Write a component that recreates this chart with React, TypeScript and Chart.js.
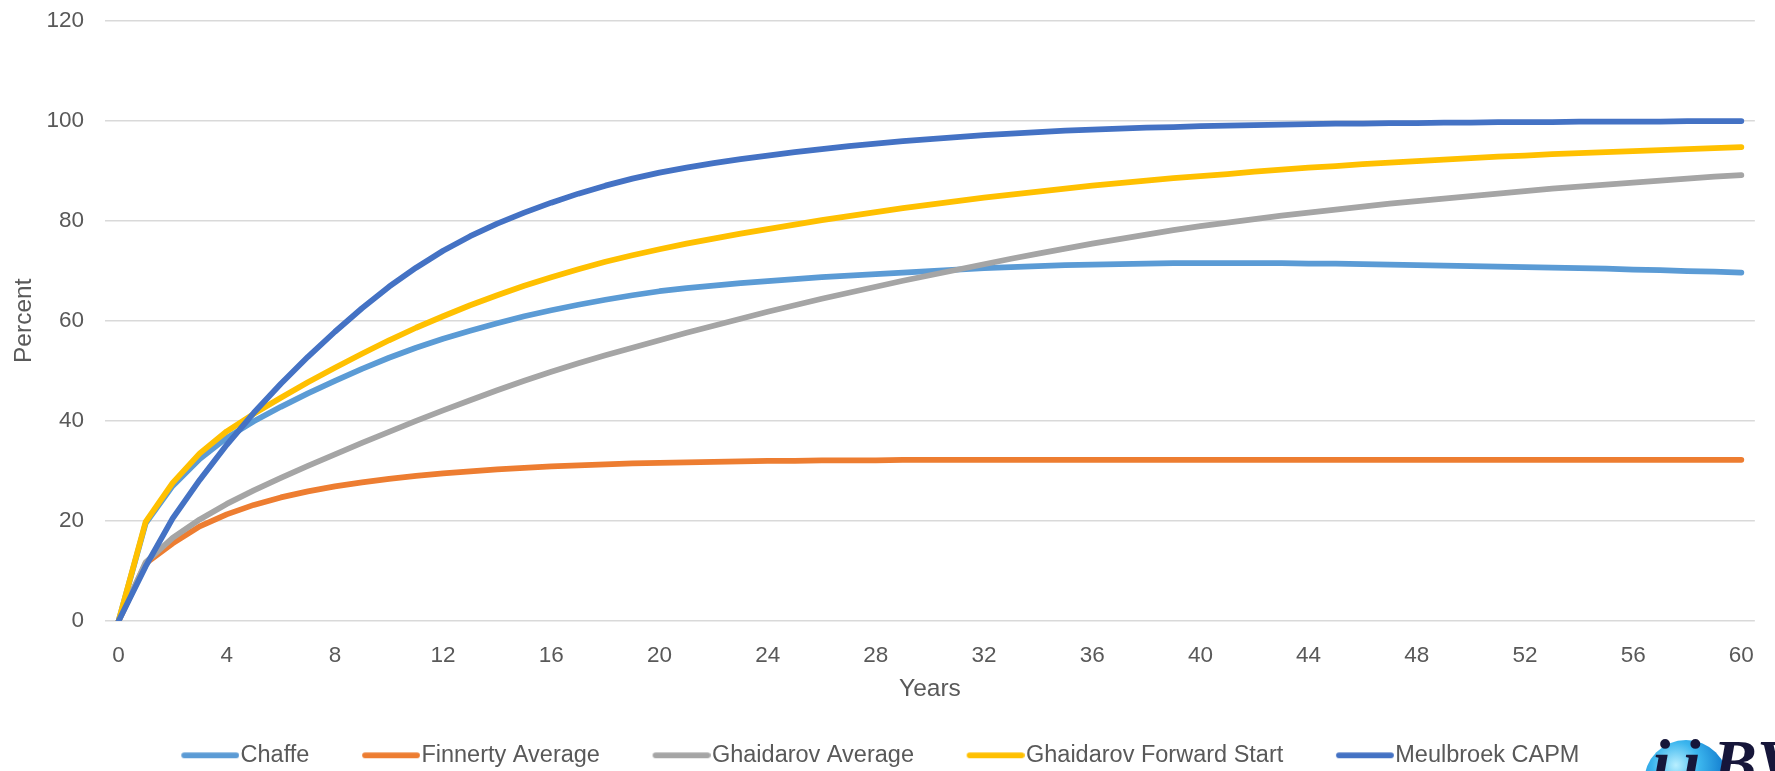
import React, { useEffect, useRef } from "react";
import { Chart, registerables } from "chart.js";

Chart.register(...registerables);

const years = [
  0, 1, 2, 3, 4, 5, 6, 7, 8, 9, 10, 11, 12, 13, 14, 15, 16, 17, 18, 19, 20,
  21, 22, 23, 24, 25, 26, 27, 28, 29, 30, 31, 32, 33, 34, 35, 36, 37, 38, 39, 40,
  41, 42, 43, 44, 45, 46, 47, 48, 49, 50, 51, 52, 53, 54, 55, 56, 57, 58, 59, 60,
];

const xTickLabels = ["0", "4", "8", "12", "16", "20", "24", "28", "32", "36", "40", "44", "48", "52", "56", "60"];

const chaffe = [
  0, 19.5, 27.0, 32.4, 36.6, 39.9, 42.8, 45.5, 48.0, 50.4, 52.6,
  54.6, 56.4, 58.0, 59.5, 60.9, 62.1, 63.2, 64.2, 65.1, 65.9,
  66.5, 67.0, 67.5, 67.9, 68.3, 68.7, 69.0, 69.3, 69.6, 69.9,
  70.2, 70.5, 70.7, 70.9, 71.1, 71.2, 71.3, 71.4, 71.5, 71.5,
  71.5, 71.5, 71.5, 71.4, 71.4, 71.3, 71.2, 71.1, 71.0, 70.9,
  70.8, 70.7, 70.6, 70.5, 70.4, 70.2, 70.1, 69.9, 69.8, 69.6,
];

const finnertyAverage = [
  0, 11.5, 15.5, 18.9, 21.3, 23.2, 24.7, 25.9, 26.9, 27.7, 28.4,
  29.0, 29.5, 29.9, 30.3, 30.6, 30.9, 31.1, 31.3, 31.5, 31.6,
  31.7, 31.8, 31.9, 32.0, 32.0, 32.1, 32.1, 32.1, 32.2, 32.2,
  32.2, 32.2, 32.2, 32.2, 32.2, 32.2, 32.2, 32.2, 32.2, 32.2,
  32.2, 32.2, 32.2, 32.2, 32.2, 32.2, 32.2, 32.2, 32.2, 32.2,
  32.2, 32.2, 32.2, 32.2, 32.2, 32.2, 32.2, 32.2, 32.2, 32.2,
];

const ghaidarovAverage = [
  0, 11.7, 16.6, 20.3, 23.4, 26.1, 28.6, 31.0, 33.3, 35.6, 37.8,
  40.0, 42.1, 44.1, 46.1, 48.0, 49.8, 51.5, 53.1, 54.6, 56.1,
  57.6, 59.0, 60.4, 61.8, 63.1, 64.4, 65.6, 66.8, 68.0, 69.1,
  70.2, 71.3, 72.4, 73.4, 74.4, 75.4, 76.3, 77.2, 78.1, 78.9,
  79.6, 80.3, 81.0, 81.6, 82.2, 82.8, 83.4, 83.9, 84.4, 84.9,
  85.4, 85.9, 86.4, 86.8, 87.2, 87.6, 88.0, 88.4, 88.8, 89.1,
];

const ghaidarovForwardStart = [
  0, 19.8, 27.6, 33.5, 37.9, 41.4, 44.6, 47.7, 50.6, 53.4, 56.1,
  58.6, 60.9, 63.1, 65.1, 67.0, 68.7, 70.3, 71.8, 73.1, 74.3,
  75.4, 76.4, 77.4, 78.3, 79.2, 80.1, 80.9, 81.7, 82.5, 83.2,
  83.9, 84.6, 85.2, 85.8, 86.4, 87.0, 87.5, 88.0, 88.5, 88.9,
  89.3, 89.8, 90.2, 90.6, 90.9, 91.3, 91.6, 91.9, 92.2, 92.5,
  92.8, 93.0, 93.3, 93.5, 93.7, 93.9, 94.1, 94.3, 94.5, 94.7,
];

const meulbroekCapm = [
  0, 10.9, 20.5, 28.2, 35.2, 41.6, 47.4, 52.8, 57.8, 62.5, 66.8,
  70.6, 74.0, 76.9, 79.4, 81.6, 83.6, 85.4, 87.0, 88.4, 89.6,
  90.6, 91.5, 92.3, 93.0, 93.7, 94.3, 94.9, 95.4, 95.9, 96.3,
  96.7, 97.1, 97.4, 97.7, 98.0, 98.2, 98.4, 98.6, 98.7, 98.9,
  99.0, 99.1, 99.2, 99.3, 99.4, 99.4, 99.5, 99.5, 99.6, 99.6,
  99.7, 99.7, 99.7, 99.8, 99.8, 99.8, 99.8, 99.9, 99.9, 99.9,
];

const seriesNames = ["Chaffe", "Finnerty Average", "Ghaidarov Average", "Ghaidarov Forward Start", "Meulbroek CAPM"];
const seriesValues = [chaffe, finnertyAverage, ghaidarovAverage, ghaidarovForwardStart, meulbroekCapm];
const seriesColors = ["#5B9BD5", "#ED7D31", "#A5A5A5", "#FFC000", "#4472C4"];

const FONT = "'Liberation Sans', Arial, sans-serif";
const TEXT = "#595959";
const LINE_W = 5.75;

function legendLine(color: string): HTMLCanvasElement {
  const c = document.createElement("canvas");
  c.width = 68;
  c.height = 12;
  const ctx = c.getContext("2d")!;
  ctx.strokeStyle = color;
  ctx.lineWidth = LINE_W;
  ctx.lineCap = "round";
  ctx.beginPath();
  ctx.moveTo(13, 6);
  ctx.lineTo(65, 6);
  ctx.stroke();
  return c;
}

export default function App() {
  const ref = useRef<HTMLCanvasElement | null>(null);

  useEffect(() => {
    if (!ref.current) return;
    const datasets = seriesNames.map((name, i) => ({
      label: name,
      data: seriesValues[i],
      borderColor: seriesColors[i],
      backgroundColor: seriesColors[i],
      borderWidth: LINE_W,
      pointRadius: 0,
      pointStyle: legendLine(seriesColors[i]),
      tension: 0,
      fill: false,
      order: seriesNames.length - 1 - i,
      borderCapStyle: "round" as const,
      borderJoinStyle: "round" as const,
    }));

    const chart = new Chart(ref.current, {
      type: "line",
      data: { labels: years.map(String), datasets },
      options: {
        responsive: false,
        animation: false,
        events: [],
        layout: { padding: { left: 4, right: 18, top: 20.5, bottom: 0 } },
        scales: {
          x: {
            type: "category",
            offset: true,
            grid: { display: false, drawTicks: false },
            border: { display: false },
            ticks: {
              autoSkip: false,
              maxRotation: 0,
              minRotation: 0,
              padding: 21,
              color: TEXT,
              font: { size: 22.5, family: FONT },
              callback: function (this: any, value: any) {
                const lbl = String(this.getLabelForValue(value));
                return xTickLabels.includes(lbl) ? lbl : "";
              },
            },
            title: {
              display: true,
              text: "Years",
              color: TEXT,
              font: { size: 24.5, family: FONT },
              padding: { top: -15.7, bottom: -13.2 },
            },
          },
          y: {
            min: 0,
            max: 120,
            ticks: {
              stepSize: 20,
              padding: 0,
              color: TEXT,
              font: { size: 22.5, family: FONT },
            },
            grid: {
              color: "#D9D9D9",
              lineWidth: 1.5,
              drawTicks: true,
              tickLength: 21,
              tickColor: "rgba(0,0,0,0)",
            },
            border: { display: false },
            title: {
              display: true,
              text: "Percent",
              color: TEXT,
              font: { size: 24.5, family: FONT },
              padding: { top: 5.5, bottom: 7.6 },
            },
          },
        },
        plugins: {
          legend: {
            position: "bottom",
            align: "center",
            labels: {
              usePointStyle: true,
              pointStyleWidth: 47.25,
              padding: 53,
              color: TEXT,
              font: { size: 23.5, family: FONT },
              sort: (a: any, b: any) => a.datasetIndex - b.datasetIndex,
            },
          },
          tooltip: { enabled: false },
        },
      },
    });
    return () => chart.destroy();
  }, []);

  return (
    <div
      style={{
        position: "fixed",
        left: 0,
        top: 0,
        width: 1775,
        height: 771,
        overflow: "hidden",
        background: "#ffffff",
      }}
    >
      <canvas
        ref={ref}
        width={1775}
        height={777}
        style={{ position: "absolute", left: 0, top: 0, width: 1775, height: 777 }}
      />
      <div
        style={{
          position: "absolute",
          left: 1644,
          top: 740,
          width: 84,
          height: 84,
          borderRadius: "50%",
          background:
            "radial-gradient(circle at 38% 30%, #b8efff 0%, #3cb6ee 30%, #0f78cc 65%, #0a4f96 100%)",
        }}
      />
      <div
        style={{
          position: "absolute",
          left: 1652,
          top: 730,
          font: "italic bold 66px 'Liberation Serif', 'DejaVu Serif', serif",
          color: "#16163a",
          lineHeight: 1,
          whiteSpace: "nowrap",
        }}
      >
        <span style={{ letterSpacing: 12 }}>ii</span>BV
      </div>
    </div>
  );
}
